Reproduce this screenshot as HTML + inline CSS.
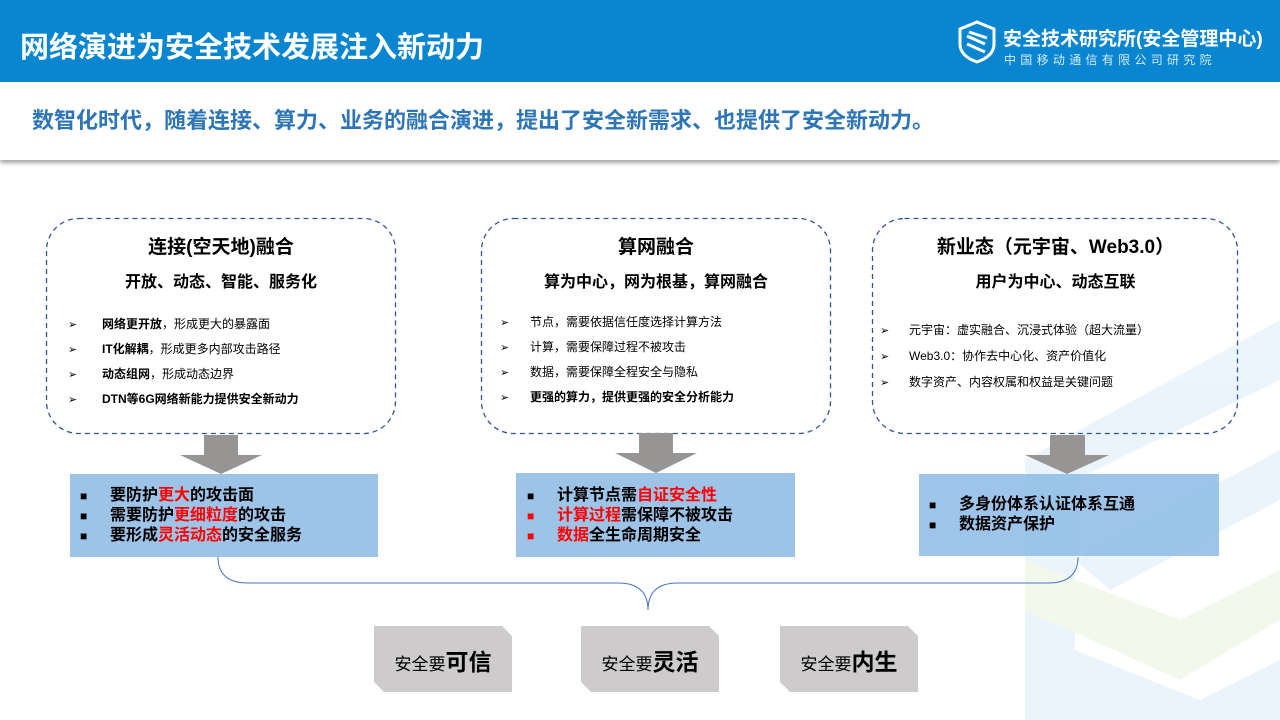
<!DOCTYPE html>
<html><head><meta charset="utf-8"><style>
*{margin:0;padding:0;box-sizing:border-box}
body{width:1280px;height:720px;position:relative;overflow:hidden;background:#fff;font-family:"Liberation Sans","Noto Sans CJK SC",sans-serif;color:#000}
.a{position:absolute;white-space:nowrap}
.hdr{position:absolute;left:0;top:0;width:1280px;height:82px;background:#0a86d1}
.band{position:absolute;left:0;top:82px;width:1280px;height:78px;background:#fff;box-shadow:0 3px 4px rgba(0,0,0,.35)}
.t{font-weight:bold;text-align:center}
.li{font-size:12px;line-height:24px}
.li span.b{display:inline-block;width:34px;font-size:11px}
.bx{font-size:16px;font-weight:bold;line-height:19px}
.bx span.s{display:inline-block;width:30px;font-size:12px}
.r{color:#f00}
</style></head><body>
<svg class="a" style="left:0;top:0" width="1280" height="720">
<g opacity="0.4">
<polygon points="1025,460 1280,320 1280,380 1075,480 1075,720 1025,720" fill="#cfe6f7"/>
<polygon points="1075,560 1280,450 1280,500 1110,590" fill="#cfe6f7"/>
<polygon points="1025,560 1180,620 1280,570 1280,620 1180,680 1025,610" fill="#dff2d2"/>
<polygon points="1075,650 1200,700 1280,660 1280,720 1075,720" fill="#cfe6f7"/>
</g>
<g fill="none" stroke="#2f5597" stroke-width="1.3" stroke-dasharray="5,4">
<rect x="46.5" y="218.5" width="349" height="215" rx="32"/>
<rect x="481.5" y="218.5" width="349" height="215" rx="32"/>
<rect x="872.5" y="218.5" width="365" height="215" rx="32"/>
</g>
<g fill="#979494">
<polygon points="204,435 238,435 238,455 262,455 221,474 180,455 204,455"/>
<polygon points="639,433 673,433 673,453 697,453 656,473 615,453 639,453"/>
<polygon points="1050,435 1085,435 1085,455 1109,455 1067,474 1025,455 1050,455"/>
</g>
<rect x="70" y="474" width="308" height="83" fill="#9dc3e6"/>
<rect x="516" y="473" width="279" height="84" fill="#9dc3e6"/>
<rect x="919" y="474" width="300" height="82" fill="#8dbbe5" opacity="0.85"/>
<path d="M218,557 Q218,583 248,583 L618,583 Q648,583 648,610 Q648,583 678,583 L1048,583 Q1078,583 1078,557" fill="none" stroke="#4472c4" stroke-width="1"/>
<g fill="#cdcbcc">
<polygon points="374,626 502,626 512,636 512,692 384,692 374,682"/>
<polygon points="581,626 709,626 719,636 719,692 591,692 581,682"/>
<polygon points="780,626 908,626 918,636 918,692 790,692 780,682"/>
</g>
</svg>
<div class="hdr"></div>
<div class="a" style="left:20px;top:24px;color:#fff;font-size:29px;font-weight:bold">网络演进为安全技术发展注入新动力</div>
<svg class="a" style="left:957px;top:20px" width="40" height="44"><path d="M20,2 L37,9 L37,24 Q37,36 20,42 Q3,36 3,24 L3,9 Z" fill="none" stroke="#fff" stroke-width="3"/><path d="M10,16 L28,24 M10,24 L28,32 M12,12 L30,18" stroke="#fff" stroke-width="3"/></svg>
<div class="a" style="left:1003px;top:24px;color:#fff;font-size:19px;font-weight:bold">安全技术研究所(安全管理中心)</div>
<div class="a" style="left:1004px;top:51px;color:#d5ebf8;font-size:12px;letter-spacing:4.3px">中国移动通信有限公司研究院</div>
<div class="band"></div>
<div class="a" style="left:32px;top:103px;color:#2e75b6;font-size:22px;font-weight:bold">数智化时代，随着连接、算力、业务的融合演进，提出了安全新需求、也提供了安全新动力。</div>

<div class="a t" style="left:46px;width:350px;top:232px;font-size:19px">连接(空天地)融合</div>
<div class="a t" style="left:46px;width:350px;top:268px;font-size:16px">开放、动态、智能、服务化</div>
<div class="a li" style="left:68px;top:312px"><span class="b">➢</span><b>网络更开放</b>，形成更大的暴露面<br><span class="b">➢</span><b>IT化解耦</b>，形成更多内部攻击路径<br><span class="b">➢</span><b>动态组网</b>，形成动态边界<br><span class="b">➢</span><b>DTN等6G网络新能力提供安全新动力</b></div>

<div class="a t" style="left:481px;width:350px;top:232px;font-size:19px">算网融合</div>
<div class="a t" style="left:481px;width:350px;top:268px;font-size:16px">算为中心，网为根基，算网融合</div>
<div class="a li" style="left:500px;top:310px"><span class="b" style="width:30px">➢</span>节点，需要依据信任度选择计算方法<br><span class="b" style="width:30px">➢</span>计算，需要保障过程不被攻击<br><span class="b" style="width:30px">➢</span>数据，需要保障全程安全与隐私<br><span class="b" style="width:30px">➢</span><b>更强的算力，提供更强的安全分析能力</b></div>

<div class="a t" style="left:873px;width:365px;top:232px;font-size:19px">新业态（元宇宙、Web3.0）</div>
<div class="a t" style="left:873px;width:365px;top:268px;font-size:16px">用户为中心、动态互联</div>
<div class="a li" style="left:880px;top:318px;line-height:25px"><span class="b" style="width:29px">➢</span>元宇宙：虚实融合、沉浸式体验（超大流量）<br><span class="b" style="width:29px">➢</span>Web3.0：协作去中心化、资产价值化<br><span class="b" style="width:29px">➢</span>数字资产、内容权属和权益是关键问题</div>

<div class="a bx" style="left:80px;top:486px"><span class="s">■</span>要防护<span class="r">更大</span>的攻击面<br><span class="s">■</span>需要防护<span class="r">更细粒度</span>的攻击<br><span class="s">■</span>要形成<span class="r">灵活动态</span>的安全服务</div>
<div class="a bx" style="left:527px;top:486px"><span class="s">■</span>计算节点需<span class="r">自证安全性</span><br><span class="s r">■</span><span class="r">计算过程</span>需保障不被攻击<br><span class="s r">■</span><span class="r">数据</span>全生命周期安全</div>
<div class="a bx" style="left:929px;top:495px"><span class="s">■</span>多身份体系认证体系互通<br><span class="s">■</span>数据资产保护</div>

<div class="a" style="left:374px;width:138px;top:643px;text-align:center;font-size:17px">安全要<b style="font-size:23px">可信</b></div>
<div class="a" style="left:581px;width:138px;top:643px;text-align:center;font-size:17px">安全要<b style="font-size:23px">灵活</b></div>
<div class="a" style="left:780px;width:138px;top:643px;text-align:center;font-size:17px">安全要<b style="font-size:23px">内生</b></div>
</body></html>
